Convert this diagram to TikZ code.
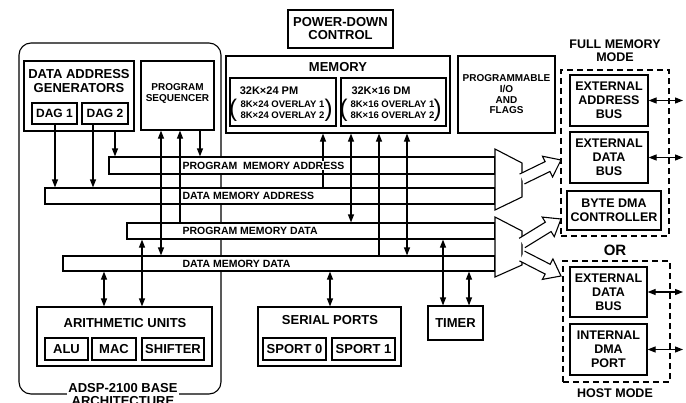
\documentclass[tikz,border=0pt]{standalone}
\usepackage{fontspec}
\setmainfont{Liberation Sans}
\usetikzlibrary{arrows.meta,calc}
\newcommand\fatarr[3]{%
  \path (#2) coordinate (#1-s) (#3) coordinate (#1-t);
  \path ($(#1-t)!15pt!(#1-s)$) coordinate (#1-b);
  \draw[line width=1.1pt, fill=white, line join=miter]
    ($(#1-s)!5.5pt!90:(#1-t)$) -- ($(#1-b)!5.5pt!-90:(#1-s)$) -- ($(#1-b)!11.5pt!-90:(#1-s)$)
    -- (#1-t) -- ($(#1-b)!11.5pt!90:(#1-s)$) -- ($(#1-b)!5.5pt!90:(#1-s)$) -- ($(#1-s)!5.5pt!-90:(#1-t)$);
}
\begin{document}
\begin{tikzpicture}[x=1pt,y=-1pt,
  lw/.style={line width=1.1pt},
  box/.style={draw, lw, fill=white, inner sep=0pt, align=center, font=\bfseries\fontsize{12.5}{14}\selectfont},
  bar/.style={draw, lw, fill=white, inner sep=0pt},
  barlbl/.style={anchor=west, fill=white, inner sep=0.3pt, font=\bfseries\fontsize{10.5}{12}\selectfont},
  lbl/.style={inner sep=0pt, align=center, font=\bfseries\fontsize{12.5}{14}\selectfont},
  conn/.style={lw, -{Triangle[length=8pt,width=6pt]}},
  dconn/.style={lw, {Triangle[length=8pt,width=6pt]}-{Triangle[length=8pt,width=6pt]}},
  dashbox/.style={draw, lw, dash pattern=on 6pt off 4pt, inner sep=0pt}
]
\useasboundingbox (0,0) rectangle (686,402);

% base architecture frame
\node[draw, lw, rounded corners=12pt, minimum width=202pt, minimum height=351pt, inner sep=0pt] (base) at (120,218.5) {};

% buses
\node[bar, minimum width=386pt, minimum height=17pt] (pma) at (302,165.5) {};
\node[bar, minimum width=450pt, minimum height=16pt] (dma) at (270,196) {};
\node[bar, minimum width=368pt, minimum height=16pt] (pmd) at (311,231) {};
\node[bar, minimum width=432pt, minimum height=15pt] (dmd) at (279,263.5) {};

% boxes
\node[box, minimum width=110pt, minimum height=70pt] (dag) at (79,96) {};
\node[lbl, font=\bfseries\fontsize{13}{14}\selectfont] (dagt) at (79,81) {DATA ADDRESS\\GENERATORS};
\node[box, font=\bfseries\fontsize{12}{14}\selectfont, minimum width=45pt, minimum height=21pt] (dag1) at (54.5,113.5) {DAG 1};
\node[box, font=\bfseries\fontsize{12}{14}\selectfont, minimum width=46pt, minimum height=21pt] (dag2) at (105,113.5) {DAG 2};

\node[box, minimum width=73pt, minimum height=69pt] (seq) at (177.5,95.5) {};
\node[lbl, font=\bfseries\fontsize{10}{11}\selectfont] (seqt) at (177.5,93.5) {PROGRAM\\SEQUENCER};

\node[box, font=\bfseries\fontsize{13}{13}\selectfont, minimum width=105pt, minimum height=38pt] (pwr) at (340.5,29) {POWER-DOWN\\CONTROL};

\node[box, minimum width=224pt, minimum height=77pt] (mem) at (338,94.5) {};
\node[lbl, font=\bfseries\fontsize{13}{14}\selectfont] (memt) at (338,67) {MEMORY};
\node[box, minimum width=106pt, minimum height=48pt] (pm) at (283,102) {};
\node[box, minimum width=105pt, minimum height=48pt] (dm) at (393.5,102) {};
\node[lbl, font=\bfseries\fontsize{11}{12}\selectfont] (pmt) at (269,91) {32K×24 PM};
\node[lbl, font=\bfseries\fontsize{9.5}{11}\selectfont] (pmo) at (282.5,109.5) {8K×24 OVERLAY 1\\8K×24 OVERLAY 2};
\node[inner sep=0pt, font=\fontsize{24}{24}\selectfont] (pml) at (233,110) {(};
\node[inner sep=0pt, font=\fontsize{24}{24}\selectfont] (pmr) at (328.5,110) {)};
\node[lbl, font=\bfseries\fontsize{11}{12}\selectfont] (dmt) at (381,91) {32K×16 DM};
\node[lbl, font=\bfseries\fontsize{9.5}{11}\selectfont] (dmo) at (392.5,109.5) {8K×16 OVERLAY 1\\8K×16 OVERLAY 2};
\node[inner sep=0pt, font=\fontsize{24}{24}\selectfont] (dml) at (343.5,110) {(};
\node[inner sep=0pt, font=\fontsize{24}{24}\selectfont] (dmr) at (437.5,110) {)};

\node[box, line width=1.8pt, font=\bfseries\fontsize{10}{10.7}\selectfont, minimum width=97pt, minimum height=77pt] (pio) at (506.5,94.5) {PROGRAMMABLE\\I/O\\AND\\FLAGS};

% full memory mode
\node[dashbox, minimum width=108pt, minimum height=166pt] (full) at (615,153) {};
\node[lbl, font=\bfseries\fontsize{12.5}{13}\selectfont] (fullt) at (615,50.5) {FULL MEMORY\\MODE};
\node[box, minimum width=78pt, minimum height=51pt] (eab) at (609,100.5) {EXTERNAL\\ADDRESS\\BUS};
\node[box, minimum width=78pt, minimum height=51pt] (edb) at (609,157.5) {EXTERNAL\\DATA\\BUS};
\node[box, minimum width=94pt, minimum height=39pt] (bdma) at (614,210.5) {BYTE DMA\\CONTROLLER};
\node[lbl, font=\bfseries\fontsize{15}{16}\selectfont] (or) at (615,250) {OR};
% host mode
\node[dashbox, minimum width=107pt, minimum height=121pt] (host) at (616.5,321.5) {};
\node[box, minimum width=77pt, minimum height=50pt] (hedb) at (608.5,292) {EXTERNAL\\DATA\\BUS};
\node[box, minimum width=77pt, minimum height=51pt] (idma) at (608.5,349.5) {INTERNAL\\DMA\\PORT};
\node[lbl] (hostt) at (615,393) {HOST MODE};

% bottom units
\node[box, minimum width=175pt, minimum height=59pt] (arith) at (124.5,336.5) {};
\node[lbl, font=\bfseries\fontsize{13}{14}\selectfont] (aritht) at (125,323) {ARITHMETIC UNITS};
\node[box, font=\bfseries\fontsize{13}{14}\selectfont, minimum width=43pt, minimum height=22pt] (alu) at (66.5,349) {ALU};
\node[box, font=\bfseries\fontsize{13}{14}\selectfont, minimum width=44pt, minimum height=22pt] (mac) at (114,349) {MAC};
\node[box, font=\bfseries\fontsize{13}{14}\selectfont, minimum width=62pt, minimum height=22pt] (shf) at (173,349) {SHIFTER};

\node[box, minimum width=143pt, minimum height=59pt] (ser) at (329.5,336.5) {};
\node[lbl, font=\bfseries\fontsize{13}{14}\selectfont] (sert) at (330,320) {SERIAL PORTS};
\node[box, font=\bfseries\fontsize{13}{14}\selectfont, minimum width=63pt, minimum height=22pt] (sp0) at (294.5,349) {SPORT 0};
\node[box, font=\bfseries\fontsize{13}{14}\selectfont, minimum width=63pt, minimum height=22pt] (sp1) at (363.5,349) {SPORT 1};

\node[box, font=\bfseries\fontsize{13}{14}\selectfont, minimum width=55pt, minimum height=34pt] (timer) at (455.5,323) {TIMER};

% base label
\node[lbl, font=\bfseries\fontsize{13}{13.5}\selectfont, fill=white, inner sep=1pt] (baset) at (123,394.5) {ADSP-2100 BASE\\ARCHITECTURE};

% connector x positions
\foreach \n/\x in {a/55, b/93, c/115, d/161, e/180, f/200, g/323, h/351, i/379, j/407, k/104, l/142, m/330, n/443, o/469, r/683}
  \coordinate (v\n) at (\x,0);

\draw[conn] (dag1.south -| va) -- (dma.north -| va);
\draw[conn] (dag2.south -| vb) -- (dma.north -| vb);
\draw[conn] (dag.south -| vc) -- (pma.north -| vc);
\draw[dconn] (seq.south -| vd) -- (dmd.north -| vd);
\draw[conn] (pmd.north -| ve) -- (seq.south -| ve);
\draw[conn] (seq.south -| vf) -- (pma.north -| vf);
\draw[conn] (dma.north -| vg) -- (mem.south -| vg);
\draw[dconn] (mem.south -| vh) -- (pmd.north -| vh);
\draw[conn] (dmd.north -| vi) -- (mem.south -| vi);
\draw[dconn] (mem.south -| vj) -- (dmd.north -| vj);
\draw[dconn] (dmd.south -| vk) -- (arith.north -| vk);
\draw[dconn] (pmd.south -| vl) -- (arith.north -| vl);
\draw[dconn] (dmd.south -| vm) -- (ser.north -| vm);
\draw[dconn] (pmd.south -| vn) -- (timer.north -| vn);
\draw[dconn] (dmd.south -| vo) -- (timer.north -| vo);

% bus labels
\node[barlbl] (pmat) at (182,165.5) {PROGRAM\ \ MEMORY ADDRESS};
\node[barlbl] (dmat) at (182,196) {DATA MEMORY ADDRESS};
\node[barlbl] (pmdt) at (182,231) {PROGRAM MEMORY DATA};
\node[barlbl] (dmdt) at (182,263.5) {DATA MEMORY DATA};

% multiplexers
\draw[lw, fill=white, line join=miter] (495,149) coordinate (mux1) -- (522,163) -- (522,197) -- (495,210) -- cycle;
\draw[lw, fill=white, line join=miter] (495,217) coordinate (mux2) -- (522,231) -- (522,265) -- (495,277) -- cycle;

\fatarr{fa}{522,179}{561,160}
\fatarr{fb}{522,243}{561,219}
\fatarr{fc}{522,256}{561,276}

% external double arrows
\draw[dconn] (eab.east) -- (eab.east -| vr);
\draw[dconn] (edb.east) -- (edb.east -| vr);
\draw[dconn] (hedb.east) -- (hedb.east -| vr);
\draw[dconn] (idma.east) -- (idma.east -| vr);
\end{tikzpicture}
\end{document}
